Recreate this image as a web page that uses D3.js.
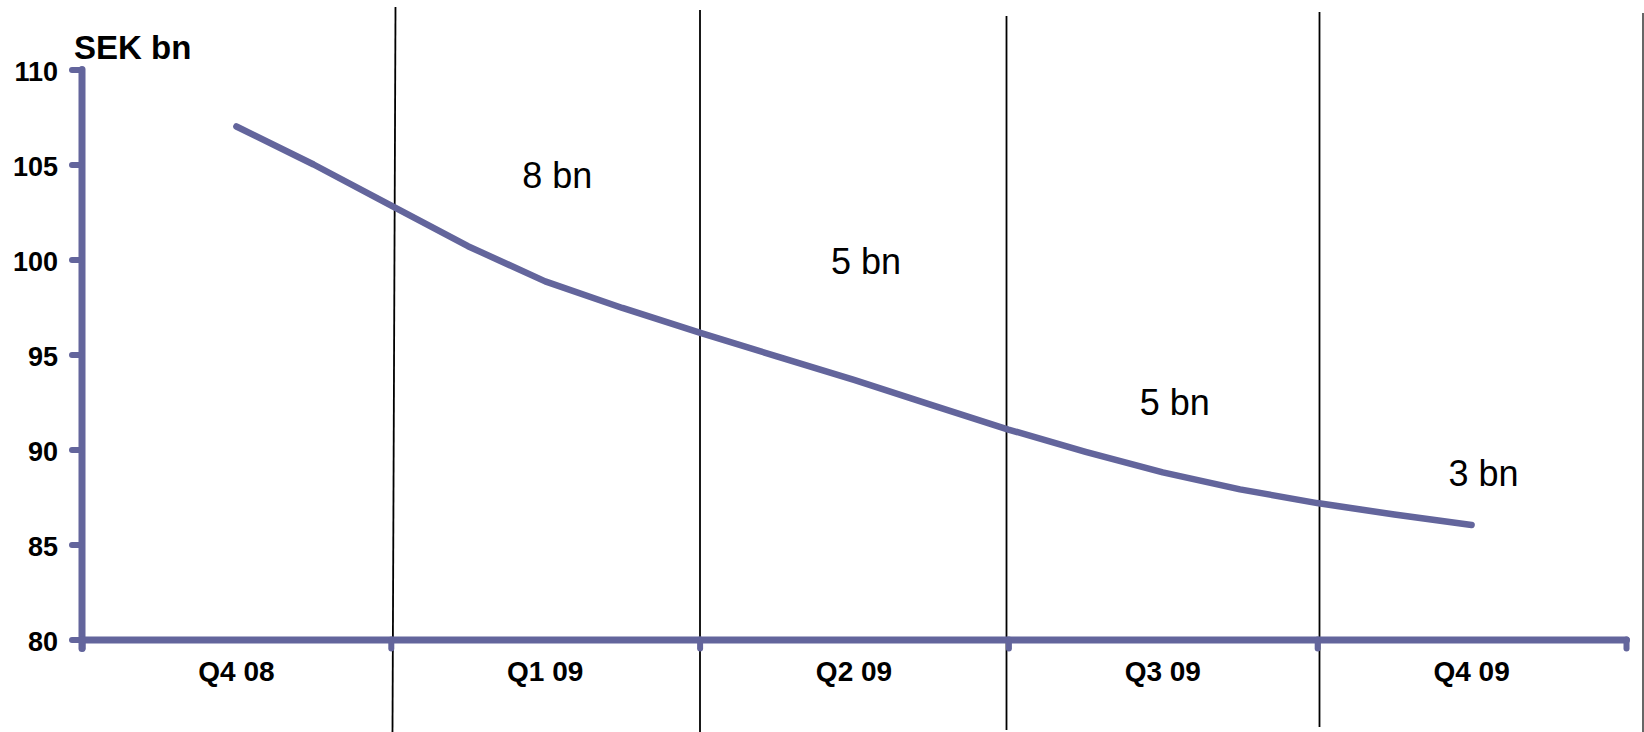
<!DOCTYPE html>
<html>
<head>
<meta charset="utf-8">
<script src="https://cdn.jsdelivr.net/npm/d3@7"></script>
<style>
  html, body { margin: 0; padding: 0; background: #fff; }
  svg { display: block; }
  text { font-family: "Liberation Sans", Arial, sans-serif; }
</style>
</head>
<body>
<svg id="chart" width="1644" height="732"></svg>
<script>
// ---- data ----
const categories = ["Q4 08", "Q1 09", "Q2 09", "Q3 09", "Q4 09"];
const yTicks = [80, 85, 90, 95, 100, 105, 110];
const unitLabel = "SEK bn";
// positions along the time axis, in quarters from the Q4 08 mid-point
const seriesPos = [0, 0.25, 0.5, 0.75, 1, 1.25, 1.5, 1.75, 2, 2.25, 2.5, 2.75, 3, 3.25, 3.5, 3.75, 4];
const seriesValues = [107.0, 105.0, 102.85, 100.7, 98.85, 97.45, 96.15, 94.9, 93.67, 92.35, 91.05, 89.88, 88.8, 87.9, 87.18, 86.58, 86.03];
// reduction annotations per quarter
const annotationCats = ["Q1 09", "Q2 09", "Q3 09", "Q4 09"];
const annotationTexts = ["8 bn", "5 bn", "5 bn", "3 bn"];
const annotationLevels = [103.75, 99.25, 91.8, 88.1];

// ---- layout ----
const svg = d3.select("#chart");
const color = "#63659c";
const x0 = 82, x1 = 1626, yTop = 69.5, yBot = 639.5;

const x = d3.scaleLinear().domain([0, categories.length]).range([x0, x1]);
const y = d3.scaleLinear().domain([80, 110]).range([yBot, yTop]);
const catCenter = c => x(categories.indexOf(c) + 0.5);

// black divider lines between quarters (hand-placed in the original)
const dividerTops = [7, 10, 16, 12];
const dividerBots = [732, 732, 730, 727];
const dividerShift = [3.2, 0.4, -1.9, 2.3];
const dividerSkew = [3, 0, 0, 0];
d3.range(1, categories.length).forEach((i, k) => {
  const cx = x(i) + dividerShift[k];
  svg.append("line")
    .attr("x1", cx + dividerSkew[k] / 2).attr("x2", cx - dividerSkew[k] / 2)
    .attr("y1", dividerTops[k]).attr("y2", dividerBots[k])
    .attr("stroke", "#000").attr("stroke-width", 1.8);
});
// frame edge at right
svg.append("line").attr("x1", 1643).attr("x2", 1643).attr("y1", 13).attr("y2", 732)
  .attr("stroke", "#000").attr("stroke-width", 1.2);

// y axis
const yAxis = d3.axisLeft(y).tickValues(yTicks).tickSize(10).tickSizeOuter(0).tickPadding(14);
const gy = svg.append("g").attr("transform", `translate(${x0},0)`).call(yAxis);
gy.select(".domain").remove();
gy.selectAll(".tick line").attr("stroke", color).attr("stroke-width", 6).attr("stroke-linecap", "round");
gy.selectAll(".tick text").attr("fill", "#000").attr("font-size", 27).attr("font-weight", "bold")
  .attr("dy", "0.40em").attr("font-family", "Liberation Sans, Arial, sans-serif");
svg.append("line").attr("x1", x0).attr("x2", x0).attr("y1", y(110)).attr("y2", y(80) + 9)
  .attr("stroke", color).attr("stroke-width", 7).attr("stroke-linecap", "round");

// x axis
const xAxis = d3.axisBottom(x).tickValues(d3.range(0, categories.length + 1)).tickSize(9).tickSizeOuter(0).tickFormat("");
const gx = svg.append("g").attr("transform", `translate(0,${yBot})`).call(xAxis);
gx.select(".domain").attr("stroke", color).attr("stroke-width", 7).attr("stroke-linecap", "round");
gx.selectAll(".tick line").attr("stroke", color).attr("stroke-width", 6).attr("stroke-linecap", "round");

svg.append("g").selectAll("text").data(categories).join("text")
  .attr("x", d => catCenter(d)).attr("y", 681)
  .attr("text-anchor", "middle").attr("font-size", 28).attr("font-weight", "bold").attr("fill", "#000")
  .text(d => d);

// unit label
svg.append("text").attr("x", 74).attr("y", 59).attr("font-size", 33).attr("font-weight", "bold")
  .attr("fill", "#000").text(unitLabel);

// series line
const line = d3.line().x(d => x(0.5 + d[0])).y(d => y(d[1]));
svg.append("path").datum(seriesPos.map((p, i) => [p, seriesValues[i]]))
  .attr("d", line).attr("fill", "none").attr("stroke", color).attr("stroke-width", 6.5)
  .attr("stroke-linecap", "round").attr("stroke-linejoin", "round");

// annotations
svg.append("g").selectAll("text").data(annotationTexts).join("text")
  .attr("x", (d, i) => catCenter(annotationCats[i]) + 12)
  .attr("y", (d, i) => y(annotationLevels[i]))
  .attr("text-anchor", "middle").attr("font-size", 36).attr("fill", "#000")
  .text(d => d);
</script>
</body>
</html>
